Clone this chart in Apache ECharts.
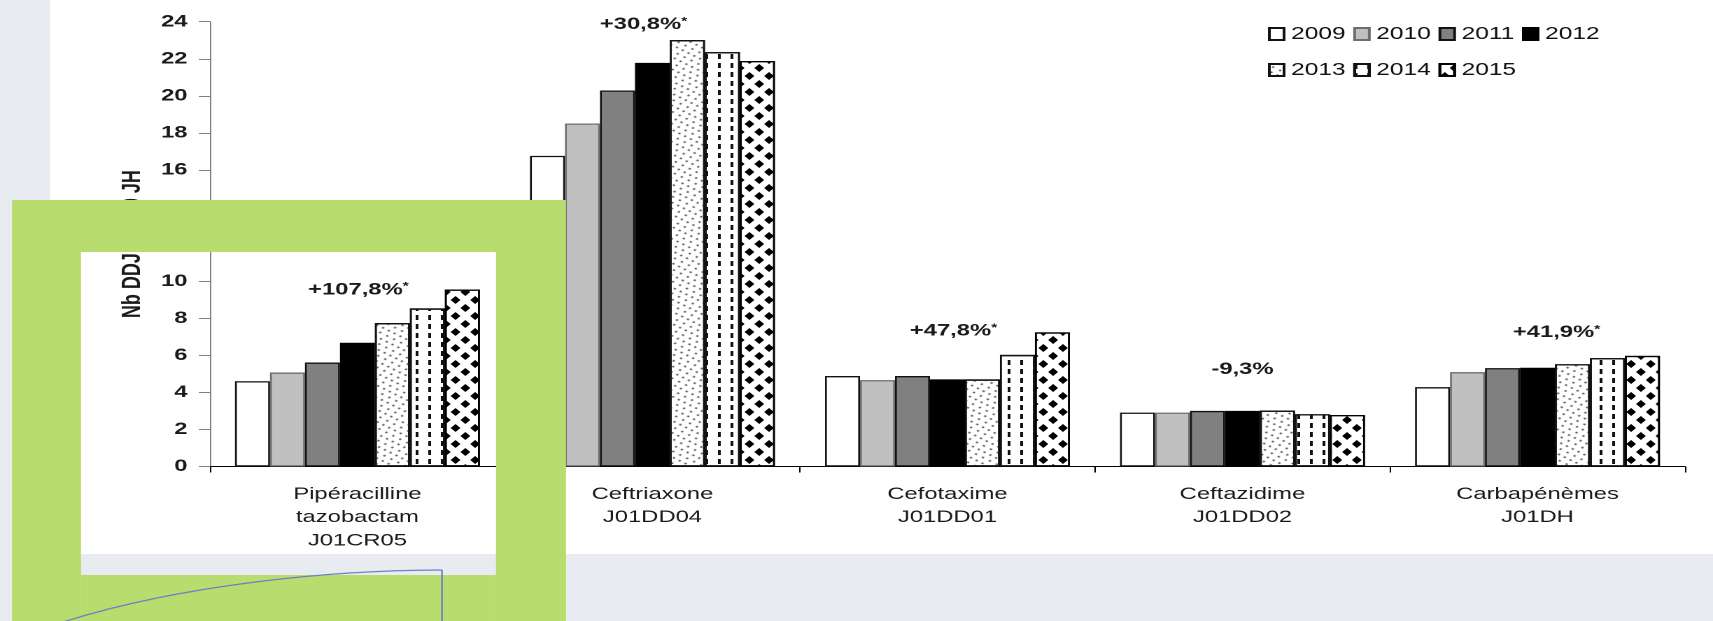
<!DOCTYPE html>
<html>
<head>
<meta charset="utf-8">
<script src="https://cdn.jsdelivr.net/npm/echarts@6/dist/echarts.min.js"></script>
<style>
  html, body { margin: 0; padding: 0; overflow: hidden; background: #e8ebf0; }
  /* la figure d'origine est étirée en largeur : on dessine plus étroit puis on étire */
  #chart { width: 1224px; height: 621px; transform: scaleX(1.3995); transform-origin: 0 0; }
</style>
</head>
<body>
<div id="chart"></div>
<script>
// Consommation (Nb DDJ / 1000 JH) par molécule, 2009 -> 2015.
const categories = [
  "Pipéracilline\ntazobactam\nJ01CR05",
  "Ceftriaxone\nJ01DD04",
  "Cefotaxime\nJ01DD01",
  "Ceftazidime\nJ01DD02",
  "Carbapénèmes\nJ01DH",
];
const years = ["2009", "2010", "2011", "2012", "2013", "2014", "2015"];

const v2009 = [4.6, 16.76, 4.88, 2.91, 4.28];
const v2010 = [5.07, 18.51, 4.66, 2.91, 5.09];
const v2011 = [5.61, 20.29, 4.88, 3.0, 5.31];
const v2012 = [6.68, 21.78, 4.7, 3.0, 5.33];
const v2013 = [7.74, 23.01, 4.7, 3.02, 5.52];
const v2014 = [8.53, 22.36, 6.02, 2.82, 5.85];
const v2015 = [9.55, 21.88, 7.24, 2.78, 5.97];
const byYear = [v2009, v2010, v2011, v2012, v2013, v2014, v2015];

const noteText = ["+107,8%*", "+30,8%*", "+47,8%*", "-9,3%", "+41,9%*"];

const yTicks = { min: 0, max: 24, step: 2 };

// --- mise en page ---
const SX = 1713 / 1224;            // étirement horizontal appliqué en CSS
const px = (x) => x / SX;          // x de l'image finale -> x du canvas
const FONT = "'Liberation Sans', Arial, sans-serif";
const GREEN = "#b8dc6d";
const BLUE = "#6a80c6";
// ancrage des pourcentages : [valeur y, décalage x en px]
const NOTE_POS = [[9.54, 0.7], [23.86, -6.4], [7.32, 4.3], [5.25, 0], [7.24, 13.6]];
const NOTE_SERIES = 3; // 2012 = barre du milieu, centrée sur la catégorie

const BAR_STYLES = [
  { color: "#ffffff", borderColor: "#111" },
  { color: "#c0c0c0", borderColor: "#6e6e6e" },
  { color: "#808080", borderColor: "#111" },
  { color: "#000000", borderColor: "#000" },
  {
    color: "#ffffff", borderColor: "#111",
    decal: { symbol: "rect", symbolSize: 0.8, color: "#5a5a5a",
      dashArrayX: [[2, 3], [0, 2.5, 2, 0.5]], dashArrayY: [1.6, 2.4], rotation: 0.6 },
  },
  {
    color: "#ffffff", borderColor: "#111",
    decal: { symbol: "rect", symbolSize: 1, color: "#111",
      dashArrayX: [1.4, 7], dashArrayY: [4.5, 4] },
  },
  {
    color: "#ffffff", borderColor: "#000",
    decal: { symbol: "diamond", symbolSize: 1, symbolKeepAspect: false, color: "#000",
      dashArrayX: [[6.3, 6.3], [0, 6.3, 6.3, 0]], dashArrayY: [8, 0] },
  },
];

function noteLabel(p) {
  const t = p.name;
  return t.endsWith("*") ? `{n|${t.slice(0, -1)}}{s|*}` : `{n|${t}}`;
}

const series = years.map((y, i) => {
  const s = {
    name: y,
    type: "bar",
    barGap: "0%",
    barCategoryGap: "17%",
    itemStyle: { borderWidth: 1.3, ...BAR_STYLES[i] },
    data: byYear[i],
  };
  if (i === NOTE_SERIES) {
    s.markPoint = {
      symbol: "rect",
      symbolSize: 1,
      itemStyle: { color: "rgba(0,0,0,0)" },
      label: {
        show: true,
        position: "inside",
        formatter: noteLabel,
        rich: {
          n: { fontSize: 17, fontWeight: "bold", color: "#1a1a1a", fontFamily: FONT },
          s: { fontSize: 11, fontWeight: "bold", color: "#1a1a1a", fontFamily: FONT, verticalAlign: "top" },
        },
      },
      data: noteText.map((t, k) => ({
        name: t,
        coord: [k, NOTE_POS[k][0]],
        label: { offset: [NOTE_POS[k][1], 0] },
      })),
    };
  }
  return s;
});

const legendBase = {
  orient: "horizontal",
  left: 906,
  itemWidth: 10.5,
  itemHeight: 12,
  itemGap: 5.5,
  padding: 0,
  icon: "rect",
  selectedMode: false,
  textStyle: { fontSize: 17.5, color: "#111", fontFamily: FONT },
};

const chart = echarts.init(document.getElementById("chart"), null, { renderer: "canvas", devicePixelRatio: 2 });
chart.setOption({
  animation: false,
  backgroundColor: "#e8ebf0",
  textStyle: { fontFamily: FONT },
  legend: [
    { ...legendBase, top: 25, data: years.slice(0, 4) },
    { ...legendBase, top: 61, data: years.slice(4) },
  ],
  grid: { left: 150, right: 20, top: 21.7, bottom: 154.5, outerBoundsMode: "none" },
  xAxis: {
    type: "category",
    data: categories,
    axisLine: { lineStyle: { color: "#000", width: 1 } },
    axisTick: { show: true, length: 6, lineStyle: { color: "#000" } },
    axisLabel: { interval: 0, margin: 16, fontSize: 17, lineHeight: 23.3, color: "#1a1a1a", fontFamily: FONT },
  },
  yAxis: {
    type: "value",
    min: yTicks.min,
    max: yTicks.max,
    interval: yTicks.step,
    name: "Nb DDJ / 1000 JH",
    nameLocation: "middle",
    nameGap: 46,
    nameMoveOverlap: false,
    nameTextStyle: { fontSize: 18, fontWeight: "bold", color: "#1a1a1a", fontFamily: FONT },
    axisLine: { show: true, lineStyle: { color: "#808080" } },
    axisTick: { show: true, length: 8, lineStyle: { color: "#808080" } },
    axisLabel: { margin: 16, fontSize: 17, fontWeight: "bold", color: "#1a1a1a", fontFamily: FONT },
    splitLine: { show: false },
  },
  series,
  // fond de diapositive, cadre vert et trait bleu posés par-dessus
  graphic: [
    { type: "rect", z: -10, silent: true, shape: { x: px(50), y: 0, width: px(1713 - 50), height: 554 }, style: { fill: "#fff" } },
    { type: "rect", z: 100, silent: true, shape: { x: px(12), y: 200, width: px(566 - 12), height: 52 }, style: { fill: GREEN } },
    { type: "rect", z: 100, silent: true, shape: { x: px(12), y: 252, width: px(81 - 12), height: 380 }, style: { fill: GREEN } },
    { type: "rect", z: 100, silent: true, shape: { x: px(496), y: 252, width: px(566 - 496), height: 380 }, style: { fill: GREEN } },
    { type: "rect", z: 100, silent: true, shape: { x: px(81), y: 575, width: px(496 - 81), height: 60 }, style: { fill: GREEN } },
    {
      type: "bezierCurve", z: 101, silent: true,
      shape: { x1: px(63), y1: 622, cpx1: px(180), cpy1: 585, cpx2: px(330), cpy2: 570, x2: px(442), y2: 570 },
      style: { stroke: BLUE, lineWidth: 1.2, fill: null },
    },
    {
      type: "line", z: 101, silent: true,
      shape: { x1: px(442), y1: 570, x2: px(442), y2: 622 },
      style: { stroke: BLUE, lineWidth: 1.2 },
    },
  ],
});
</script>
</body>
</html>
